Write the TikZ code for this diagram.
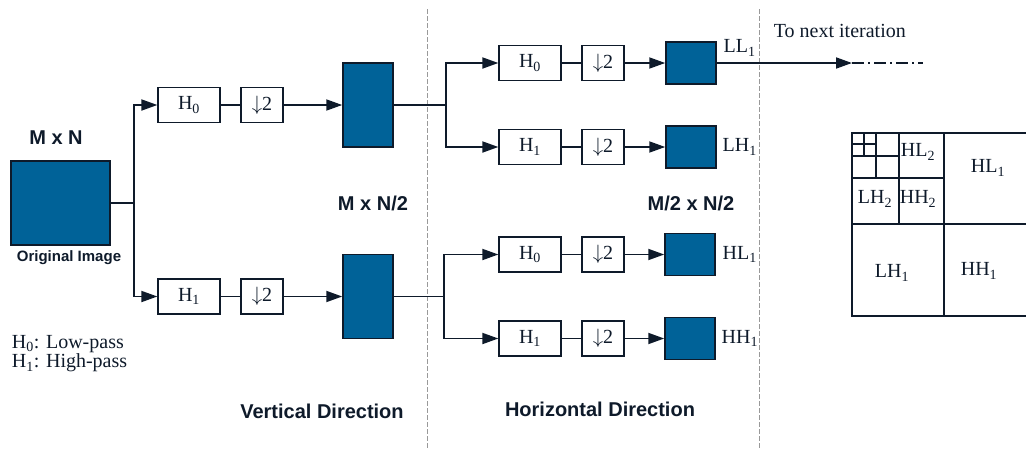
\documentclass[tikz,border=0pt]{standalone}
\usepackage{fontspec}
\setmainfont{Liberation Serif}
\setsansfont{Liberation Sans}
\usetikzlibrary{arrows.meta,positioning}
\definecolor{wblue}{RGB}{0,98,152}
\definecolor{wline}{RGB}{14,26,42}
\newcommand{\dsamp}{$\downarrow$2}
\tikzset{every path/.style={wline,line width=1.8pt},
  filt/.style={draw,fill=white,line width=1.3pt,minimum width=62pt,minimum height=35pt,inner sep=0pt,font=\fontsize{20}{24}\selectfont},
  down/.style={filt,minimum width=42pt},
  blk/.style={draw,fill=wblue,line width=1.5pt,inner sep=0pt,minimum width=50pt,minimum height=42pt},
  lbl/.style={font=\fontsize{20}{24}\selectfont,inner sep=0pt},
  bold/.style={font=\fontsize{20}{24}\selectfont\sffamily\bfseries,inner sep=0pt},
  arr/.style={-{Triangle[length=16pt,width=11pt]}},
  sep/.style={gray!80,line width=0.8pt,dash pattern=on 5pt off 2pt}}

\begin{document}
\begin{tikzpicture}[x=1pt,y=-1pt]
  \useasboundingbox (0,0) rectangle (1026,450);
  \draw[sep] (427,9) -- (427,450);
  \draw[sep] (759,9) -- (759,450);

  \node[blk,minimum width=99pt,minimum height=84pt] (img) at (60.5,203) {};
  \node[bold] (mn) at (56,138) {M x N};
  \node[bold,font=\fontsize{15}{18}\selectfont\sffamily\bfseries] (oi) at (69,258) {Original Image};
  \coordinate (j0) at (134,203);
  \draw (img.east) -- (j0);

  \node[filt] (h0) at (189,105) {H\textsubscript{0}};
  \node[down] (d0) at (262,105) {\dsamp};
  \node[blk,minimum height=84pt] (mt) at (368,105) {};
  \node[filt] (h1) at (189,296.5) {H\textsubscript{1}};
  \node[down] (d1) at (262,296.5) {\dsamp};
  \node[blk,minimum height=84pt] (mb) at (368,296.5) {};
  \draw[arr] (j0) |- (h0.west);
  \draw[arr] (j0) |- (h1.west);
  \draw (h0) -- (d0);
  \draw (h1) -- (d1);
  \draw[arr] (d0) -- (mt);
  \draw[arr] (d1) -- (mb);

  \node[bold] (mn2) at (373,203) {M x N/2};
  \node[bold] (mn4) at (691,203) {M/2 x N/2};

  \begin{scope}[yshift=-105pt]
    \coordinate (j) at (446,0);
    \draw (mt.east) -- (j);
    \node[filt] (a) at (530,-42) {H\textsubscript{0}};
    \node[down] (b) at (603,-42) {\dsamp};
    \node[blk] (c) at (691,-42) {};
    \node[filt] (e) at (530,42) {H\textsubscript{1}};
    \node[down] (f) at (603,42) {\dsamp};
    \node[blk] (g) at (691,42) {};
    \draw[arr] (j) |- (a.west);
    \draw[arr] (j) |- (e.west);
    \draw (a) -- (b);
    \draw (e) -- (f);
    \draw[arr] (b) -- (c);
    \draw[arr] (f) -- (g);
    \node[lbl,anchor=west] (ll) at ([xshift=6pt,yshift=15pt]c.east) {LL\textsubscript{1}};
    \node[lbl,anchor=west] (lh) at ([xshift=5pt]g.east) {LH\textsubscript{1}};
    \coordinate (nx) at (852,-42);
    \coordinate (ne) at (923,-42);
    \draw[arr] (c.east) -- (nx);
    \draw[line width=1.3pt,dash pattern=on 12pt off 4pt on 2pt off 4pt] (nx) -- (ne);
  \end{scope}
  \node[lbl,anchor=base west] (nt) at (773,37) {To next iteration};

  \begin{scope}[yshift=-296.5pt]
    \coordinate (j) at (444,0);
    \draw (mb.east) -- (j);
    \node[filt] (a) at (530,-42) {H\textsubscript{0}};
    \node[down] (b) at (603,-42) {\dsamp};
    \node[blk] (c) at (690,-42) {};
    \node[filt] (e) at (530,42) {H\textsubscript{1}};
    \node[down] (f) at (603,42) {\dsamp};
    \node[blk] (g) at (690,42) {};
    \draw[arr] (j) |- (a.west);
    \draw[arr] (j) |- (e.west);
    \draw (a) -- (b);
    \draw (e) -- (f);
    \draw[arr] (b) -- (c);
    \draw[arr] (f) -- (g);
    \node[lbl,anchor=west] (hl) at ([xshift=6pt]c.east) {HL\textsubscript{1}};
    \node[lbl,anchor=west] (hh) at ([xshift=5pt]g.east) {HH\textsubscript{1}};
  \end{scope}

  \node[lbl,anchor=west,align=left,font=\fontsize{20}{16}\selectfont] (key) at (11,354) {H\textsubscript{0}: Low-pass\\H\textsubscript{1}: High-pass};

  \node[bold] (vd) at (322,411) {Vertical Direction};
  \node[bold] (hd) at (600,409) {Horizontal Direction};

  \draw[line width=2pt] (852,133) rectangle (1035,316);
  \draw[line width=2pt] (944,133) -- (944,316) (852,224) -- (1035,224)
        (899,133) -- (899,224) (852,178) -- (944,178)
        (876,133) -- (876,178) (852,156) -- (899,156)
        (864,133) -- (864,156) (852,144) -- (876,144);
  \node[lbl] (q1) at (918,152) {HL\textsubscript{2}};
  \node[lbl] (q2) at (988,168) {HL\textsubscript{1}};
  \node[lbl] (q3) at (875,199) {LH\textsubscript{2}};
  \node[lbl] (q4) at (918,199) {HH\textsubscript{2}};
  \node[lbl] (q5) at (892,273) {LH\textsubscript{1}};
  \node[lbl] (q6) at (979,271) {HH\textsubscript{1}};
\end{tikzpicture}
\end{document}
